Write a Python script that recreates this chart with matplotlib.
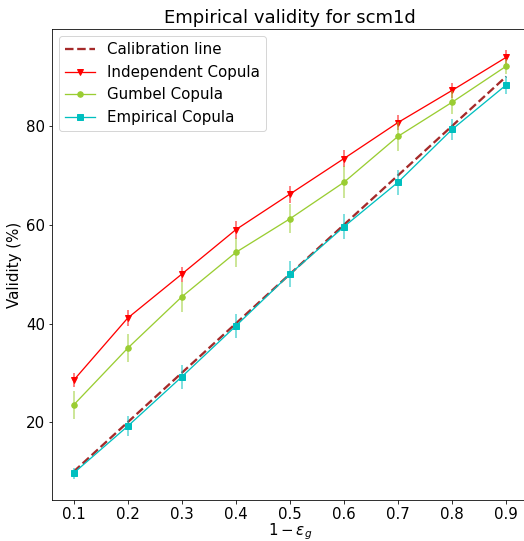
import numpy as np
import matplotlib
matplotlib.use("Agg")
import matplotlib.pyplot as plt
from matplotlib.colors import to_rgba

# coverage levels 1 - eps_g
levels = [0.1, 0.2, 0.3, 0.4, 0.5, 0.6, 0.7, 0.8, 0.9]
calibration = [10, 20, 30, 40, 50, 60, 70, 80, 90]

# mean validity (%) and spread for each copula
indep_mean = [28.5, 41.1, 50.0, 59.0, 66.2, 73.4, 80.7, 87.2, 93.9]
indep_err = [1.4, 1.6, 1.5, 1.8, 1.7, 1.7, 1.5, 1.6, 1.4]
gumbel_mean = [23.5, 35.0, 45.4, 54.4, 61.2, 68.6, 77.9, 84.8, 92.1]
gumbel_err = [2.9, 2.8, 3.0, 2.9, 2.9, 3.2, 3.0, 2.3, 1.5]
emp_mean = [9.7, 19.2, 29.2, 39.5, 50.0, 59.6, 68.6, 79.3, 88.3]
emp_err = [1.1, 2.0, 2.5, 2.5, 2.7, 2.5, 2.5, 2.2, 1.8]

plt.rcParams["font.size"] = 15

fig = plt.figure(figsize=(524 / 72, 541 / 72), dpi=72)
ax = fig.add_axes([0.0992, 0.0758, 0.908, 0.8706])

ax.plot(levels, calibration, "--", color="brown", lw=2.3, label="Calibration line")

series = [
    (indep_mean, indep_err, "red", "v", 6.5, "Independent Copula"),
    (gumbel_mean, gumbel_err, "yellowgreen", "o", 5.5, "Gumbel Copula"),
    (emp_mean, emp_err, "c", "s", 6, "Empirical Copula"),
]
for mean, err, col, mk, ms, name in series:
    ax.errorbar(levels, mean, yerr=err, fmt="none",
                ecolor=to_rgba(col, 0.55), elinewidth=1.8)
    ax.plot(levels, mean, color=col, marker=mk, markersize=ms,
            lw=1.3, label=name)

ax.set_xticks(levels)
ax.set_xticklabels([str(v) for v in levels])
ax.set_yticks([20, 40, 60, 80])
ax.set_xlabel(r"$1-\varepsilon_g$", labelpad=-1)
ax.set_ylabel("Validity (%)")
ax.set_title("Empirical validity for scm1d", fontsize=18)
ax.legend(loc="upper left", fontsize=15)

fig.savefig("out.png", dpi=72)
